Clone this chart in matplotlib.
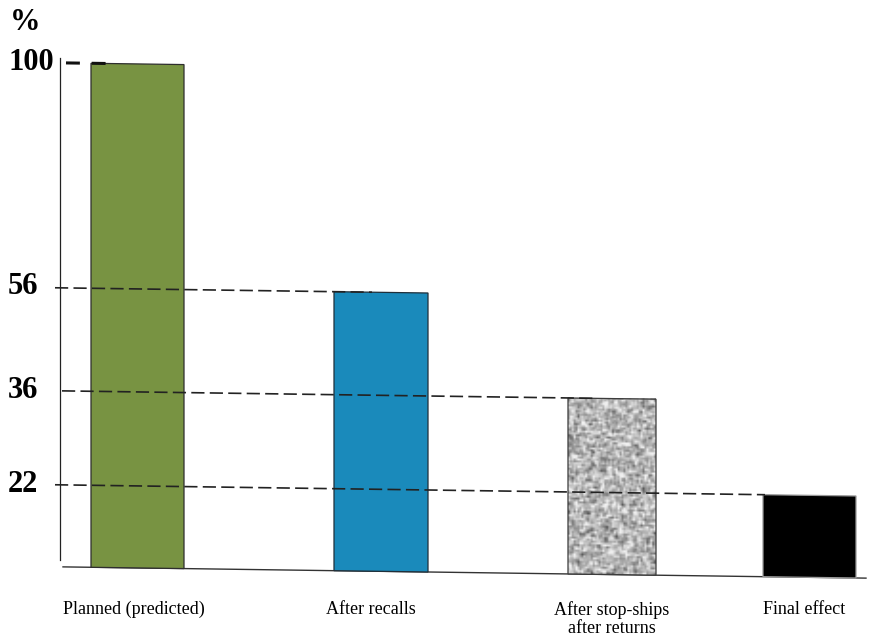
import numpy as np
import matplotlib
matplotlib.use("Agg")
import matplotlib.pyplot as plt
import matplotlib.transforms as mtransforms

# Stage values (percent of the planned effect)
categories = ["Planned (predicted)", "After recalls",
              "After stop-ships\nafter returns", "Final effect"]
shares = [100, 56, 36, 22]
level_labels = ["100", "56", "36", "22"]
level_values = [100, 56, 36, 22]

# Layout (figure pixels) and styling
bar_centers = [137.5, 381.0, 612.0, 809.5]
bar_widths = [93, 94, 88, 93]
bar_colors = ["#789342", "#1a8abb", "#b5b5b5", "#000000"]
bar_edges = ["#2e2e2e", "#1f2f3a", "#3c3c3c", "#9a9a9a"]
guide_ends = {56: (55, 372), 36: (62, 597), 22: (55, 765)}

plt.rcParams["lines.scale_dashes"] = False
serif = ["Liberation Serif", "DejaVu Serif"]

W, H = 872, 639
fig = plt.figure(figsize=(W / 100, H / 100), dpi=100)
ax = fig.add_axes([0, 0, 1, 1])

# Schematic (not-to-scale) vertical axis: piecewise-linear value -> height
anchor_vals = np.array([-19.6, 0, 22, 36, 56, 100, 112.1])
anchor_px = np.array([0, 73, 155, 249, 352, 577, 639], dtype=float)


def fwd(v):
    return np.interp(v, anchor_vals, anchor_px)


def inv(p):
    return np.interp(p, anchor_px, anchor_vals)


ax.set_yscale("function", functions=(fwd, inv))
ax.set_xlim(0, W)
ax.set_ylim(anchor_vals[0], anchor_vals[-1])
ax.axis("off")

# Slight downward tilt of the baseline and guides, left to right
tilt = mtransforms.Affine2D().skew(0, -np.arctan(0.014))
tilted = ax.transData + tilt

# Baseline
ax.plot([63, 866], [0, 0], color="#333333", lw=1.0, transform=tilted, zorder=1)

# Vertical axis line
ax.plot([60, 60], [1.5, 100.8], color="#222222", lw=0.9, zorder=1)

# Bars
bars = ax.bar(bar_centers, shares, width=bar_widths, color=bar_colors,
              edgecolor=bar_edges, linewidth=0.9, zorder=2)
for b in bars:
    b.set_transform(tilted)

# Speckled texture for the third bar, mapped onto the bar's box
rng = np.random.default_rng(11)
noise = rng.normal(0, 1, (95, 46))
pad = np.pad(noise, 1, mode="edge")
smooth = (3 * pad[1:-1, 1:-1] + pad[:-2, 1:-1] + pad[2:, 1:-1]
          + pad[1:-1, :-2] + pad[1:-1, 2:]) / 7.0
smooth = smooth / smooth.std()
tex = np.clip(0.71 + 0.12 * smooth, 0.3, 0.94)
gb = bars[2]
x0 = bar_centers[2] - bar_widths[2] / 2
x1 = bar_centers[2] + bar_widths[2] / 2
bar_box = mtransforms.TransformedBbox(
    mtransforms.Bbox([[x0, 0], [x1, shares[2]]]), ax.transData)
box_trans = mtransforms.BboxTransformTo(bar_box) + tilt
im = ax.imshow(tex, cmap="gray", vmin=0, vmax=1, aspect="auto",
               extent=(0, 1, 0, 1), transform=box_trans,
               interpolation="bilinear", zorder=2.5)
im.set_clip_path(gb)
gb.set_facecolor("none")
gb.set_zorder(3)
ax.set_xlim(0, W)
ax.set_ylim(anchor_vals[0], anchor_vals[-1])

# Dashed guide lines from the axis to each stage
for v, (xa, xb) in guide_ends.items():
    ax.plot([xa, xb], [v, v], color="#222222", lw=1.2, transform=tilted,
            linestyle=(0, (9.5, 3.8)), zorder=4, solid_capstyle="butt")
ax.plot([66, 106], [100, 100], color="#111111", lw=2.2, transform=tilted,
        linestyle=(0, (10, 8.5)), zorder=4, solid_capstyle="butt")

# Level labels
for lab, v in zip(level_labels, level_values):
    ax.text(8, v, lab, ha="left", va="center", fontsize=22, fontweight="bold",
            family=serif, color="#000000")
fig.text(10 / W, 1 - 22 / H, "%", ha="left", va="center", fontsize=22,
         fontweight="bold", family=serif)

# Category labels
label_x = [134, 371, 612, 804]
for cx, name in zip(label_x, categories):
    fig.text(cx / W, 1 - 601 / H, name, ha="center", va="top", fontsize=13,
             family=serif, linespacing=1.05, multialignment="center")

fig.savefig("out.png", dpi=100)
